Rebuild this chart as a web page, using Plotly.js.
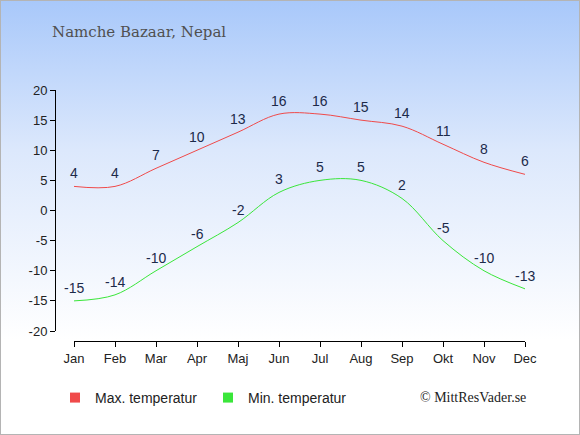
<!DOCTYPE html>
<html>
<head>
<meta charset="utf-8">
<script src="https://cdn.plot.ly/plotly-3.0.1.min.js"></script>
<style>
  html, body { margin: 0; padding: 0; }
  #wrap { position: relative; width: 580px; height: 435px;
          background: linear-gradient(to bottom, #a8c8fa 0px, #dce8fc 150px, #ffffff 340px); }
  #chart { position: absolute; left: 0; top: 0; width: 580px; height: 435px; }
  #border { position: absolute; left: 0; top: 0; width: 580px; height: 435px;
            box-sizing: border-box; border: 1px solid #b4b4b4; pointer-events: none; }
</style>
</head>
<body>
<div id="wrap"><div id="chart"></div><div id="border"></div></div>
<script>
const months = ["Jan","Feb","Mar","Apr","Maj","Jun","Jul","Aug","Sep","Okt","Nov","Dec"];
const maxTemp = [4, 4, 7, 10, 13, 16, 16, 15, 14, 11, 8, 6];
const minTemp = [-15, -14, -10, -6, -2, 3, 5, 5, 2, -5, -10, -13];
const yTicks = [-20, -15, -10, -5, 0, 5, 10, 15, 20];
const seriesNames = ["Max. temperatur", "Min. temperatur"];
const titleText = "Namche Bazaar, Nepal";
const creditText = "© MittResVader.se";

const redC = "#f04a4a", greenC = "#3ae63a", labelC = "#1c2a4a";

const traces = [
  {x: months, y: maxTemp, mode: "lines", line: {color: redC, width: 1, shape: "spline", smoothing: 1},
   showlegend: false, hoverinfo: "skip"},
  {x: months, y: minTemp, mode: "lines", line: {color: greenC, width: 1, shape: "spline", smoothing: 1},
   showlegend: false, hoverinfo: "skip"},
  {x: [null], y: [null], mode: "markers", name: seriesNames[0],
   marker: {symbol: "square", size: 10, color: redC}},
  {x: [null], y: [null], mode: "markers", name: seriesNames[1],
   marker: {symbol: "square", size: 10, color: greenC}}
];

const annotations = [];
months.forEach((m, i) => {
  annotations.push({x: m, y: maxTemp[i], xref: "x", yref: "y", text: String(maxTemp[i]),
    showarrow: false, yanchor: "bottom", yshift: 3,
    font: {family: "Liberation Sans, Arial, sans-serif", size: 14, color: labelC}});
  annotations.push({x: m, y: minTemp[i], xref: "x", yref: "y", text: String(minTemp[i]),
    showarrow: false, yanchor: "bottom", yshift: 3,
    font: {family: "Liberation Sans, Arial, sans-serif", size: 14, color: labelC}});
});
annotations.push({xref: "paper", yref: "paper", x: 1.006, y: -0.227, xanchor: "right", yanchor: "middle",
  text: creditText, showarrow: false,
  font: {family: "Liberation Serif, Times New Roman, serif", size: 14, color: "#222"}});
annotations.push({xref: "paper", yref: "paper", x: -0.011, y: 1.23, xanchor: "left", yanchor: "middle",
  text: titleText, showarrow: false,
  font: {family: "DejaVu Serif, Georgia, serif", size: 15, color: "#505050"}});

const layout = {
  width: 580, height: 435,
  margin: {l: 55, r: 55, t: 90, b: 94, pad: 0},
  paper_bgcolor: "rgba(0,0,0,0)", plot_bgcolor: "rgba(0,0,0,0)",
  showlegend: true,
  legend: {orientation: "h", x: 0.0, y: -0.227, xanchor: "left", yanchor: "middle",
           font: {family: "Liberation Sans, Arial, sans-serif", size: 14, color: "#222"},
           bgcolor: "rgba(0,0,0,0)", itemwidth: 30, entrywidth: 108, entrywidthmode: "pixels"},
  xaxis: {type: "category", range: [0, 11], domain: [19/470, 1], anchor: "free", position: 0,
          showline: true, linecolor: "#000", linewidth: 1, ticks: "outside", ticklen: 5, tickcolor: "#000",
          showgrid: false, zeroline: false, fixedrange: true,
          tickfont: {family: "Liberation Sans, Arial, sans-serif", size: 13, color: "#222"}},
  yaxis: {range: [-20, 20], domain: [10/251, 1], anchor: "free", position: 0,
          tickvals: yTicks, ticktext: yTicks.map(String),
          showline: true, linecolor: "#000", linewidth: 1, ticks: "outside", ticklen: 5, tickcolor: "#000",
          showgrid: false, zeroline: false, fixedrange: true,
          tickfont: {family: "Liberation Sans, Arial, sans-serif", size: 13, color: "#222"}},
  annotations: annotations
};

Plotly.newPlot("chart", traces, layout, {displayModeBar: false, staticPlot: true});
</script>
</body>
</html>
